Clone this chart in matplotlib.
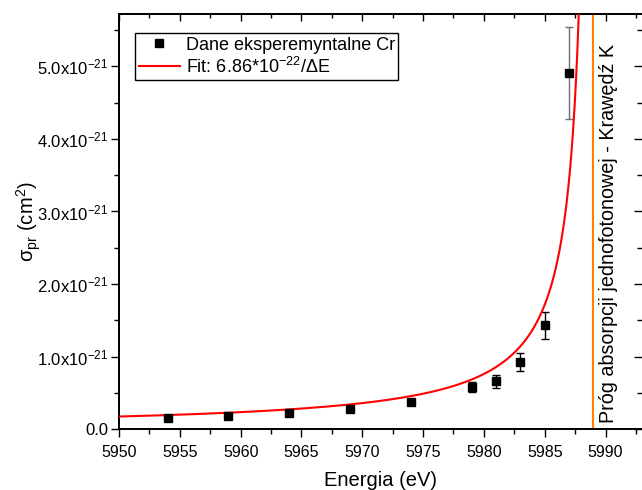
import numpy as np
import matplotlib
matplotlib.use("Agg")
import matplotlib.pyplot as plt
from matplotlib.ticker import MultipleLocator, FuncFormatter, NullFormatter

plt.rcParams["font.family"] = ["Liberation Sans", "DejaVu Sans"]
plt.rcParams["mathtext.fontset"] = "custom"
plt.rcParams["mathtext.rm"] = "Liberation Sans"
plt.rcParams["mathtext.it"] = "Liberation Sans:italic"
plt.rcParams["mathtext.bf"] = "Liberation Sans:bold"

# Measured cross sections for Cr (units of 1e-21 cm^2)
energy = [5954, 5959, 5964, 5969, 5974, 5979, 5981, 5983, 5985, 5987]
sigma = [0.16, 0.19, 0.23, 0.28, 0.38, 0.58, 0.66, 0.93, 1.43, 4.91]
sigma_err = [0.02, 0.02, 0.02, 0.03, 0.03, 0.073, 0.085, 0.124, 0.19, 0.63]

# K-edge energy (eV) and fit amplitude mantissa
k_edge = 5989.0
fit_mantissa = 6.86

x_ticks = [5950, 5955, 5960, 5965, 5970, 5975, 5980, 5985, 5990]

scale = 1e-21
E = np.array(energy, dtype=float)
S = np.array(sigma) * scale
dS = np.array(sigma_err) * scale

fig = plt.figure(figsize=(6.42, 4.90), dpi=100)
rect = [119 / 642, 1 - 429.3 / 490, 523 / 642, 415.3 / 490]

# overlay axes carrying only the inward ticks of the top and right edges
frame = fig.add_axes(rect, zorder=0)
frame.patch.set_visible(False)

ax = fig.add_axes(rect, zorder=1)
ax.patch.set_visible(False)

# error bars (last point drawn in grey)
ax.errorbar(E[:-1], S[:-1], yerr=dS[:-1], fmt="none", ecolor="black",
            elinewidth=1.0, capsize=3.2, capthick=1.0, zorder=2)
ax.errorbar(E[-1:], S[-1:], yerr=dS[-1:], fmt="none", ecolor="#6e6e6e",
            elinewidth=1.0, capsize=3.2, capthick=1.0, zorder=2)
ax.plot(E, S, "s", color="black", ms=5.4, zorder=4,
        label="Dane eksperemyntalne Cr")

# 1/ΔE fit curve
e_fit = np.linspace(5950, k_edge - 0.02, 4000)
s_fit = fit_mantissa * scale / (k_edge - e_fit)
ax.plot(e_fit, s_fit, color="#ff0000", lw=1.5, zorder=3,
        label=f"Fit: {fit_mantissa:.2f}*10$^{{-22}}$/ΔE")

# absorption edge
ax.axvline(k_edge, color="#ff8000", lw=1.5, zorder=1)
ax.text(5990.25, 2.69e-21, "Próg absorpcji jednofotonowej - Krawędź K",
        rotation=90, ha="center", va="center", fontsize=14.2)

for a in (ax, frame):
    a.set_xlim(5950, 5993)
    a.set_ylim(0, 5.72e-21)
    a.set_xticks(x_ticks)
    a.xaxis.set_minor_locator(MultipleLocator(2.5))
    a.yaxis.set_major_locator(MultipleLocator(1e-21))
    a.yaxis.set_minor_locator(MultipleLocator(0.5e-21))
    a.spines["right"].set_visible(False)
    for s in ["left", "bottom", "top"]:
        a.spines[s].set_linewidth(1.3)


def yfmt(v, pos):
    if abs(v) < 1e-30:
        return "0.0"
    return f"{v / scale:.1f}x10$^{{-21}}$"


ax.yaxis.set_major_formatter(FuncFormatter(yfmt))

ax.tick_params(which="major", direction="out", length=6, width=1.0)
ax.tick_params(which="minor", direction="out", length=3.5, width=1.0)
ax.tick_params(axis="x", which="major", pad=5, labelsize=11.5)
ax.tick_params(axis="y", which="major", pad=1.5, labelsize=12)

frame.xaxis.set_major_formatter(NullFormatter())
frame.yaxis.set_major_formatter(NullFormatter())
frame.tick_params(which="both", direction="in", width=1.0,
                  bottom=False, left=False, top=True, right=True,
                  labelbottom=False, labelleft=False,
                  labeltop=False, labelright=False)
frame.tick_params(axis="x", which="major", length=5)
frame.tick_params(axis="x", which="minor", length=3)
frame.tick_params(axis="y", which="major", length=6)
frame.tick_params(axis="y", which="minor", length=3.5)

ax.set_xlabel("Energia (eV)", fontsize=14.5, labelpad=8)
ax.set_ylabel("σ$_{\\mathrm{pr}}$ (cm$^{2}$)", fontsize=14.5)
ax.yaxis.set_label_coords(-0.146, 0.5)

leg = ax.legend(loc="upper left", bbox_to_anchor=(0.0306, 0.954),
                fontsize=13, frameon=True, fancybox=False, edgecolor="black",
                framealpha=1, borderpad=0.2, labelspacing=0.15,
                handlelength=2.3, handletextpad=0.3, borderaxespad=0,
                numpoints=1)
leg.get_frame().set_linewidth(1.0)

fig.savefig("out.png", dpi=100)
